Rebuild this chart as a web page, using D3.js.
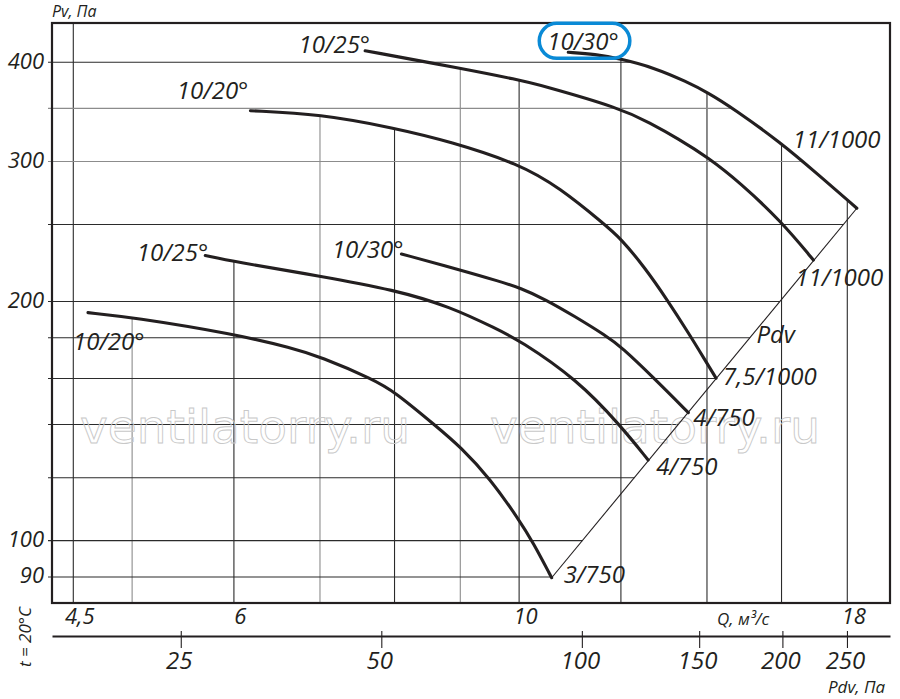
<!DOCTYPE html>
<html>
<head>
<meta charset="utf-8">
<script src="https://cdnjs.cloudflare.com/ajax/libs/d3/7.8.5/d3.min.js"></script>
<style>
body { margin: 0; background: #fff; }
text { font-family: "Open Sans", sans-serif; font-style: italic; fill: #231f20; }
</style>
</head>
<body>
<div id="chart"></div>
<script>
var width = 900;
var height = 699;
var plotLeft = 52, plotRight = 890, plotTop = 23, plotBottom = 603;

// grid and ticks
var qGrid = [4.5, 5, 6, 7, 8, 9, 10, 12, 14, 16, 18];
var qGridLight = [5, 7, 9];
var qTicks = [4.5, 6, 10, 18];
var pGrid = [90, 100, 120, 140, 160, 180, 200, 250, 300, 350, 400];
var pGridLight = [300, 350];
var pTicks = [90, 100, 200, 300, 400];
var pdvTicks = [25, 50, 100, 150, 200, 250];

// curves, Q in m3/s and Pv in Pa
var q3_750 = [4.62, 5.0, 6.0, 6.67, 7.0, 7.7, 8.0, 8.63, 9.0, 9.49, 10.0, 10.26, 10.6];
var p3_750 = [193.6, 191.0, 182.0, 174.6, 170.4, 159.6, 154.0, 139.1, 131.3, 119.8, 106.2, 99.3, 89.8];

var q4_750a = [5.7, 6.0, 7.0, 8.0, 8.84, 9.61, 10.0, 11.09, 12.0, 12.6];
var p4_750a = [228.5, 224.4, 215.3, 206.8, 197.0, 184.6, 178.8, 159.6, 139.4, 126.3];

var q4_750b = [8.1, 9.0, 9.66, 10.02, 10.48, 11.05, 11.68, 12.0, 12.76, 13.54];
var p4_750b = [229.5, 219.1, 211.9, 208.0, 201.2, 191.5, 181.1, 175.5, 159.6, 144.9];

var q7_5_1000 = [6.18, 7.0, 8.0, 8.84, 10.0, 10.76, 11.62, 12.0, 12.53, 13.03, 13.53, 13.95, 14.23];
var p7_5_1000 = [347.6, 344.3, 330.6, 317.9, 298.0, 277.8, 251.0, 240.0, 220.4, 201.2, 183.0, 168.8, 160.1];

var q11_1000a = [7.59, 9.0, 10.0, 10.38, 12.0, 12.64, 13.29, 14.03, 14.85, 16.0, 16.94];
var p11_1000a = [413.6, 393.1, 380.0, 374.5, 350.0, 335.4, 320.7, 303.5, 282.3, 252.0, 225.5];

var q11_1000b = [10.92, 11.46, 12.0, 12.72, 13.5, 14.03, 14.68, 16.0, 17.04, 18.31];
var p11_1000b = [411.7, 409.5, 403.8, 394.0, 378.1, 366.1, 349.8, 316.3, 289.9, 262.0];

var startLabels = ["10/20°", "10/25°", "10/30°", "10/20°", "10/25°", "10/30°"];
var endLabels = ["3/750", "4/750", "4/750", "7,5/1000", "11/1000", "11/1000"];

var series = [
    {q: q3_750, p: p3_750},
    {q: q4_750a, p: p4_750a},
    {q: q4_750b, p: p4_750b},
    {q: q7_5_1000, p: p7_5_1000},
    {q: q11_1000a, p: p11_1000a},
    {q: q11_1000b, p: p11_1000b}
];
series.forEach(function(s, i) {
    s.points = s.q.map(function(v, j) { return [v, s.p[j]]; });
    s.start = startLabels[i];
    s.end = endLabels[i];
});

// which curve each vertical grid line stops at (-1 = frame top)
var vStop = [-1, 0, 1, 3, 3, 4, 4, 5, 5, 5, 5];

// label offsets from the curve start / end: [dx, dy, anchor, dx, dy]
var labelLayout = [
    [-15, 37, "start", 12, 5],
    [3, 6, "end", 8, 15],
    [2, 4, "end", 5, 13],
    [-2, -11.7, "end", 7, 7],
    [5, 2.5, "end", -18, 26],
    [-21, -2, "start", -64, -60]
];

var x = d3.scaleLog().domain([4.3316, 19.431]).range([plotLeft, plotRight]);
var y = d3.scaleLog().domain([83.46, 448.2]).range([plotBottom, plotTop]);
var pdv = d3.scaleLog().domain([16.02, 290.1]).range([plotLeft, plotRight]);

var svg = d3.select("#chart")
            .append("svg").attr("width", width)
            .attr("height", height);

var gGrid = svg.append("g");
var gMark = svg.append("g");
var gCurves = svg.append("g");
var gFrame = svg.append("g");
var gText = svg.append("g");

var line = d3.line()
             .x(function(d) { return x(d[0]); })
             .y(function(d) { return y(d[1]); })
             .curve(d3.curveBasis);

var paths = gCurves.selectAll("path.curve")
                   .data(series)
                   .enter()
                   .append("path")
                   .attr("class", "curve")
                   .attr("d", function(d) { return line(d.points); })
                   .attr("fill", "none")
                   .attr("stroke", "#231f20")
                   .attr("stroke-width", 3.1)
                   .attr("stroke-linecap", "round");

// sample the drawn curves so grid lines can stop on them
var samples = [];
paths.each(function() {
    var L = this.getTotalLength(), pts = [];
    for (var i = 0; i <= 500; i++) {
        var pt = this.getPointAtLength(L * i / 500);
        pts.push([pt.x, pt.y]);
    }
    samples.push(pts);
});

function yAtX(pts, xv) {
    for (var i = 1; i < pts.length; i++) {
        if (pts[i][0] >= xv) {
            var a = pts[i - 1], b = pts[i];
            var t = b[0] === a[0] ? 0 : (xv - a[0]) / (b[0] - a[0]);
            return a[1] + t * (b[1] - a[1]);
        }
    }
    return pts[pts.length - 1][1];
}
function xAtY(pts, yv) {
    for (var i = 1; i < pts.length; i++) {
        if (pts[i][1] >= yv) {
            var a = pts[i - 1], b = pts[i];
            var t = b[1] === a[1] ? 0 : (yv - a[1]) / (b[1] - a[1]);
            return a[0] + t * (b[0] - a[0]);
        }
    }
    return pts[pts.length - 1][0];
}

// Pdv line joins the curve ends
var first = series[0].points[series[0].points.length - 1];
var last = series[5].points[series[5].points.length - 1];
var pdvA = [x(first[0]), y(first[1])];
var pdvB = [x(last[0]), y(last[1])];

function gridColor(light) { return light ? "#8c8c8c" : "#2b2b2b"; }

gGrid.selectAll("line.v")
     .data(qGrid)
     .enter()
     .append("line")
     .attr("class", "v")
     .attr("x1", function(d) { return x(d); })
     .attr("x2", function(d) { return x(d); })
     .attr("y1", function(d, i) { return vStop[i] < 0 ? plotTop : yAtX(samples[vStop[i]], x(d)); })
     .attr("y2", plotBottom)
     .attr("stroke", function(d) { return gridColor(qGridLight.indexOf(d) >= 0); })
     .attr("stroke-width", 1.1);

gGrid.selectAll("line.h")
     .data(pGrid)
     .enter()
     .append("line")
     .attr("class", "h")
     .attr("x1", plotLeft - 4)
     .attr("x2", function(d) {
         var yy = y(d);
         if (yy <= pdvB[1]) return xAtY(samples[5], yy);
         return pdvA[0] + (pdvA[1] - yy) / (pdvA[1] - pdvB[1]) * (pdvB[0] - pdvA[0]);
     })
     .attr("y1", function(d) { return y(d); })
     .attr("y2", function(d) { return y(d); })
     .attr("stroke", function(d) { return gridColor(pGridLight.indexOf(d) >= 0); })
     .attr("stroke-width", 1.1);

// watermark
gMark.selectAll("text")
     .data([80, 490])
     .enter()
     .append("text")
     .attr("x", function(d) { return d; })
     .attr("y", 443)
     .text("ventilatorry.ru")
     .style("font-family", "'DejaVu Sans', sans-serif")
     .style("font-style", "normal")
     .style("font-size", "47px")
     .style("fill", "none")
     .style("stroke", "#c8c8c8")
     .style("stroke-width", 0.9);

gCurves.append("line")
       .attr("x1", pdvA[0]).attr("y1", pdvA[1])
       .attr("x2", pdvB[0]).attr("y2", pdvB[1])
       .attr("stroke", "#231f20")
       .attr("stroke-width", 1.1);

gFrame.append("rect")
      .attr("x", plotLeft).attr("y", plotTop)
      .attr("width", plotRight - plotLeft)
      .attr("height", plotBottom - plotTop)
      .attr("fill", "none")
      .attr("stroke", "#231f20")
      .attr("stroke-width", 2.2);

// axes
var yAxis = gText.append("g")
                 .attr("transform", "translate(" + plotLeft + ",0)")
                 .call(d3.axisLeft(y).tickValues(pTicks).tickSize(0).tickFormat(d3.format("d")));
yAxis.select(".domain").remove();
yAxis.attr("font-family", null).style("font-size", "22px");
yAxis.selectAll("text").attr("x", -8).attr("dy", 6);

var xAxis = gText.append("g")
                 .attr("transform", "translate(0," + plotBottom + ")")
                 .call(d3.axisBottom(x).tickValues(qTicks).tickSize(0)
                         .tickFormat(function(d) { return String(d).replace(".", ","); }));
xAxis.select(".domain").remove();
xAxis.attr("font-family", null).style("font-size", "22px");
xAxis.selectAll("text").attr("y", 21).attr("dy", 0).attr("dx", 6);

var pdvAxis = gText.append("g")
                   .attr("transform", "translate(0,636)")
                   .call(d3.axisBottom(pdv).tickValues(pdvTicks).tickSizeInner(12).tickSizeOuter(0)
                           .tickFormat(d3.format("d")));
pdvAxis.attr("font-family", null).style("font-size", "24px").style("color", "#231f20");
pdvAxis.select(".domain").attr("stroke-width", 2.2);
pdvAxis.selectAll(".tick line").attr("y1", -5).attr("stroke-width", 1.1);
pdvAxis.selectAll("text").attr("y", 33).attr("dy", 0).attr("dx", -2);

// axis titles
gText.append("text").attr("x", plotLeft).attr("y", 17).style("font-size", "16px").text("Pv, Па");
gText.append("text").attr("x", 717).attr("y", 625).style("font-size", "17px").text("Q, м³/с");
gText.append("text").attr("x", 828).attr("y", 693).style("font-size", "17px").text("Pdv, Па");
gText.append("text")
     .attr("transform", "translate(31,637) rotate(-90)")
     .attr("text-anchor", "middle")
     .style("font-size", "17px")
     .text("t = 20°C");

// curve labels
var startText = [];
series.forEach(function(s, i) {
    var a = s.points[0], b = s.points[s.points.length - 1];
    var lay = labelLayout[i];
    startText.push(gText.append("text")
         .attr("x", x(a[0]) + lay[0])
         .attr("y", y(a[1]) + lay[1])
         .attr("text-anchor", lay[2])
         .style("font-size", "24px")
         .text(s.start));
    gText.append("text")
         .attr("x", x(b[0]) + lay[3])
         .attr("y", y(b[1]) + lay[4])
         .style("font-size", "24px")
         .text(s.end);
});

var tPdv = 0.635;
gText.append("text")
     .attr("x", pdvA[0] + tPdv * (pdvB[0] - pdvA[0]) + 11)
     .attr("y", pdvA[1] + tPdv * (pdvB[1] - pdvA[1]))
     .style("font-size", "24px")
     .text("Pdv");

// highlight around the top 10/30° label
var bb = startText[5].node().getBBox();
gText.append("rect")
     .attr("x", bb.x - 8)
     .attr("y", bb.y - 1)
     .attr("width", bb.width + 19)
     .attr("height", bb.height + 2)
     .attr("rx", (bb.height + 2) / 2)
     .attr("fill", "none")
     .attr("stroke", "#0a8ad6")
     .attr("stroke-width", 3.5);
</script>
</body>
</html>
